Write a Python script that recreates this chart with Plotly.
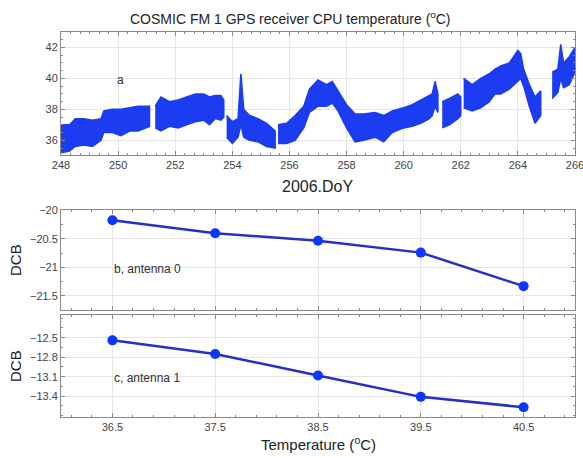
import plotly.graph_objects as go

doy = [248.0, 248.3, 248.5, 248.8, 249.1, 249.4, 249.5, 249.8, 250.1, 250.4, 250.7, 251.0, 251.1, None,
       251.3, 251.5, 251.8, 252.1, 252.4, 252.7, 253.0, 253.2, 253.4, 253.6, 253.7, None,
       253.8, 254.0, 254.2, 254.3, 254.4, 254.6, 254.9, 255.2, 255.5, None,
       255.6, 255.9, 256.2, 256.5, 256.7, 257.0, 257.3, 257.5, 257.7, 258.0, 258.3, 258.6, 259.0,
       259.3, 259.6, 260.0, 260.3, 260.6, 260.9, 261.0, 261.1, 261.2, None,
       261.35, 261.6, 261.9, 262.0, None,
       262.1, 262.4, 262.7, 263.0, 263.2, 263.4, 263.7, 264.0, 264.1, 264.2, 264.4, 264.6, 264.8, None,
       265.2, 265.4, 265.5, 265.6, 265.8, 266.0]
cpu_low = [35.2, 35.3, 35.6, 35.7, 35.6, 36.0, 36.5, 36.5, 36.3, 36.6, 36.6, 36.8, 36.9, None,
           36.8, 36.6, 36.9, 36.8, 37.0, 37.2, 37.3, 37.0, 37.4, 37.3, 37.5, None,
           36.2, 35.8, 36.2, 37.0, 36.2, 36.0, 35.9, 35.6, 35.5, None,
           35.8, 35.8, 36.0, 36.8, 37.8, 38.2, 38.2, 38.4, 37.9, 36.8, 35.9, 36.0, 36.2,
           35.9, 36.5, 36.8, 36.9, 37.1, 37.4, 37.6, 38.2, 37.8, None,
           36.8, 37.0, 37.4, 37.6, None,
           38.1, 37.9, 38.1, 38.5, 39.0, 39.0, 39.3, 39.8, 40.0, 39.5, 38.2, 37.1, 37.6, None,
           38.7, 39.1, 40.0, 39.4, 39.6, 40.4]
cpu_high = [37.0, 37.0, 37.4, 37.4, 37.3, 37.4, 37.9, 38.0, 38.0, 38.1, 38.2, 38.2, 38.2, None,
            38.2, 38.8, 38.5, 38.6, 38.8, 39.0, 39.0, 38.8, 38.9, 38.9, 38.6, None,
            37.6, 37.2, 37.4, 40.3, 38.0, 37.6, 37.4, 37.1, 36.6, None,
            37.0, 37.1, 37.6, 38.2, 39.3, 39.9, 39.6, 39.8, 39.2, 38.3, 37.7, 37.7, 37.8,
            37.6, 37.9, 38.1, 38.3, 38.6, 38.9, 39.0, 39.8, 39.0, None,
            38.5, 38.7, 39.0, 38.8, None,
            40.0, 39.6, 40.0, 40.3, 40.6, 40.8, 41.0, 41.8, 41.6, 40.6, 39.6, 38.8, 39.2, None,
            40.4, 40.6, 42.2, 41.0, 41.4, 42.0]

# ---- Panels b, c: DCB vs temperature
temp = [36.5, 37.5, 38.5, 39.5, 40.5]
dcb_ant0 = [-20.17, -20.40, -20.53, -20.74, -21.33]
dcb_ant1 = [-12.54, -12.75, -13.08, -13.41, -13.57]

doy_ticks = [248, 250, 252, 254, 256, 258, 260, 262, 264, 266]
cpu_ticks = [36, 38, 40, 42]
temp_ticks = [36.5, 37.5, 38.5, 39.5, 40.5]
ant0_ticks = [-20, -20.5, -21, -21.5]
ant1_ticks = [-12.5, -12.8, -13.1, -13.4]

BAND = "#1b3cf0"
MARK = "#0b37ff"
LINE = "#2530c4"
FONT = "Liberation Sans, Arial, sans-serif"

fig = go.Figure()

# split band into continuous segments and draw each as a filled polygon
segs, cur = [], []
for d, lo, hi in zip(doy, cpu_low, cpu_high):
    if d is None:
        if cur:
            segs.append(cur)
        cur = []
    else:
        cur.append((d, lo, hi))
if cur:
    segs.append(cur)
for s in segs:
    xs = [p[0] for p in s] + [p[0] for p in reversed(s)]
    ys = [p[1] for p in s] + [p[2] for p in reversed(s)]
    fig.add_trace(go.Scatter(x=xs, y=ys, mode="lines", fill="toself", fillcolor=BAND,
                             line=dict(color=BAND, width=1.5), xaxis="x", yaxis="y",
                             hoverinfo="skip", showlegend=False))

fig.add_trace(go.Scatter(x=temp, y=dcb_ant0, mode="lines+markers",
                         line=dict(color=LINE, width=2.5),
                         marker=dict(color=MARK, size=10),
                         xaxis="x2", yaxis="y2", showlegend=False))
fig.add_trace(go.Scatter(x=temp, y=dcb_ant1, mode="lines+markers",
                         line=dict(color=LINE, width=2.5),
                         marker=dict(color=MARK, size=10),
                         xaxis="x3", yaxis="y3", showlegend=False))

common = dict(showline=True, linecolor="#8a8a8a", linewidth=1, mirror="allticks",
              ticks="inside", ticklen=4, tickcolor="#8a8a8a",
              showgrid=True, gridcolor="#e6e6e6", gridwidth=1, zeroline=False,
              ticklabeloverflow="allow", automargin=False,
              tickfont=dict(family=FONT, size=11, color="#444444"))

mt = 32
mb = 41
H = 458
ph = H - mt - mb


def dom(top_px, bot_px):
    return [(H - mb - bot_px) / ph, (H - mb - top_px) / ph]


fig.update_layout(
    width=583, height=458,
    margin=dict(l=61, r=8, t=mt, b=mb),
    paper_bgcolor="white", plot_bgcolor="white",
    font=dict(family=FONT, color="#333333"),
    xaxis=dict(domain=[0, 1], range=[248, 266], tickvals=doy_ticks, anchor="y",
               minor=dict(tick0=248, dtick=1/3, ticks="inside", ticklen=2, tickcolor="#8a8a8a", showgrid=False),
               **common),
    yaxis=dict(domain=dom(32, 155), range=[35.05, 43], tickvals=cpu_ticks, anchor="x",
               minor=dict(tick0=36, dtick=0.5, ticks="inside", ticklen=2, tickcolor="#8a8a8a", showgrid=False),
               **common),
    xaxis2=dict(domain=[0, 1], range=[36, 41], tickvals=temp_ticks, anchor="y2", showticklabels=False,
                minor=dict(tick0=36.5, dtick=0.2, ticks="inside", ticklen=2, tickcolor="#8a8a8a", showgrid=False),
                **common),
    yaxis2=dict(domain=dom(210, 310), range=[-21.75, -19.99], tickvals=ant0_ticks, anchor="x2",
                minor=dict(tick0=-20, dtick=0.25, ticks="inside", ticklen=2, tickcolor="#8a8a8a", showgrid=False),
                **common),
    xaxis3=dict(domain=[0, 1], range=[36, 41], tickvals=temp_ticks, anchor="y3",
                minor=dict(tick0=36.5, dtick=0.2, ticks="inside", ticklen=2, tickcolor="#8a8a8a", showgrid=False),
                **common),
    yaxis3=dict(domain=dom(315, 417), range=[-13.72, -12.15], tickvals=ant1_ticks, anchor="x3",
                minor=dict(tick0=-12.5, dtick=0.15, ticks="inside", ticklen=2, tickcolor="#8a8a8a", showgrid=False),
                **common),
)

ann = [
    dict(text="COSMIC FM 1 GPS receiver CPU temperature (<sup>o</sup>C)", x=290, y=18, size=14),
    dict(text="2006.DoY", x=317, y=186, size=16),
    dict(text="Temperature (<sup>o</sup>C)", x=318, y=443, size=15),
]
for a in ann:
    fig.add_annotation(text=a["text"], xref="paper", yref="paper",
                       x=(a["x"] - 61) / (583 - 61 - 8), y=(H - mb - a["y"]) / ph,
                       xanchor="center", yanchor="middle", showarrow=False,
                       font=dict(family=FONT, size=a["size"], color="#222222"))
for yy in [260, 366]:
    fig.add_annotation(text="DCB", xref="paper", yref="paper",
                       x=(15 - 61) / (583 - 61 - 8), y=(H - mb - yy) / ph,
                       xanchor="center", yanchor="middle", showarrow=False, textangle=-90,
                       font=dict(family=FONT, size=15, color="#222222"))

fig.add_annotation(text="a", x=250.1, y=39.9, xref="x", yref="y", showarrow=False,
                   xanchor="center", yanchor="middle", font=dict(family=FONT, size=12, color="#333333"))
fig.add_annotation(text="b, antenna 0", x=36.5, y=-21.03, xref="x2", yref="y2", showarrow=False,
                   xanchor="left", yanchor="middle", font=dict(family=FONT, size=12, color="#333333"))
fig.add_annotation(text="c, antenna 1", x=36.5, y=-13.12, xref="x3", yref="y3", showarrow=False,
                   xanchor="left", yanchor="middle", font=dict(family=FONT, size=12, color="#333333"))

fig.write_html("out.html")
